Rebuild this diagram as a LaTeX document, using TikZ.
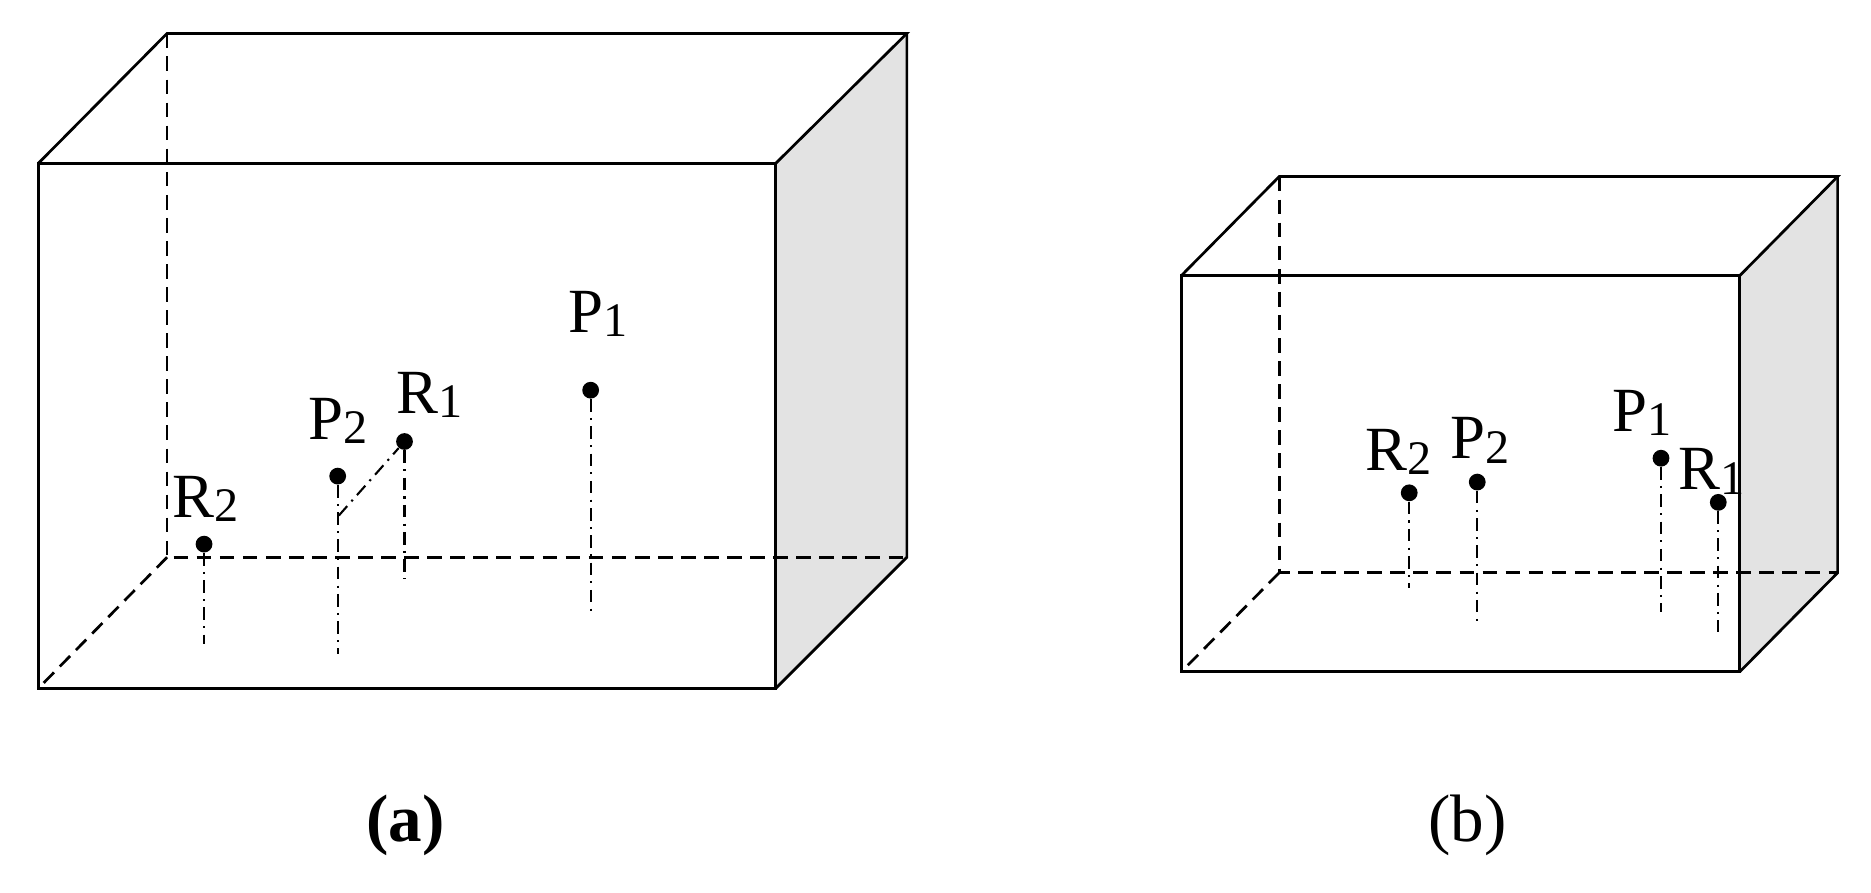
\documentclass[tikz,border=0pt]{standalone}
\usepackage{fontspec}
\setmainfont{Liberation Serif}
\tikzset{
 edge/.style={line width=1.3pt},
 hid/.style={line width=1.3pt,dash pattern=on 7pt off 4pt},
 drop/.style={line width=1pt,dash pattern=on 6pt off 3pt on 1pt off 3pt},
 pt/.style={circle,fill=black,inner sep=0pt,minimum size=8pt},
 lab/.style={font=\fontsize{30}{34}\selectfont,inner sep=0pt},
 capt/.style={font=\fontsize{32}{36}\selectfont\bfseries,inner sep=0pt}
}
\newcommand{\sbs}[1]{\raisebox{-2pt}{\fontsize{23}{24}\selectfont #1}}
\begin{document}
\begin{tikzpicture}[x=0.02cm,y=-0.02cm]
\useasboundingbox (0,0) rectangle (1568,748);
% box a
\fill[gray!22] (650,137) -- (760,28) -- (760,467) -- (650,577) -- cycle;
\draw[edge] (32,137) rectangle (650,577);
\draw[edge] (32,137) -- (140,28) -- (760,28) -- (650,137);
\draw[edge] (760,28) -- (760,467) -- (650,577);
\draw[hid] (140,28) -- (140,467) -- (760,467);
\draw[hid] (140,467) -- (32,577);
\node[pt] (ap1) at (495,327) {}; \coordinate (ap1e) at (495,517);
\node[pt] (ar1) at (339,370) {}; \coordinate (ar1e) at (339,485);
\node[pt] (ap2) at (283,399) {}; \coordinate (ap2e) at (283,548);
\node[pt] (ar2) at (171,456) {}; \coordinate (ar2e) at (171,540);
\coordinate (adiag) at (284,432);
\draw[drop] (ap1) -- (ap1e); \draw[drop] (ar1) -- (ar1e);
\draw[drop] (ap2) -- (ap2e); \draw[drop] (ar2) -- (ar2e);
\draw[drop] (adiag) -- (ar1);
\node[lab] (lap1) at (501,263) {P\sbs{1}};
\node[lab] (lap2) at (283,353) {P\sbs{2}};
\node[lab] (lar1) at (360,331) {R\sbs{1}};
\node[lab] (lar2) at (172,418) {R\sbs{2}};
\node[capt] (ca) at (340,692) {(a)};
% box b
\fill[gray!22] (1458,231) -- (1540,148) -- (1540,480) -- (1458,563) -- cycle;
\draw[edge] (990,231) rectangle (1458,563);
\draw[edge] (990,231) -- (1072,148) -- (1540,148) -- (1458,231);
\draw[edge] (1540,148) -- (1540,480) -- (1458,563);
\draw[hid] (1072,148) -- (1072,480) -- (1540,480);
\draw[hid] (1072,480) -- (990,563);
\node[pt] (br2) at (1181,413) {}; \coordinate (br2e) at (1181,493);
\node[pt] (bp2) at (1238,404) {}; \coordinate (bp2e) at (1238,523);
\node[pt] (bp1) at (1392,384) {}; \coordinate (bp1e) at (1392,513);
\node[pt] (br1) at (1440,421) {}; \coordinate (br1e) at (1440,530);
\draw[drop] (br2) -- (br2e); \draw[drop] (bp2) -- (bp2e);
\draw[drop] (bp1) -- (bp1e); \draw[drop] (br1) -- (br1e);
\node[lab] (lbr2) at (1172,379) {R\sbs{2}};
\node[lab] (lbp2) at (1240,369) {P\sbs{2}};
\node[lab] (lbp1) at (1376,346) {P\sbs{1}};
\node[lab] (lbr1) at (1434,395) {R\sbs{1}};
\node[capt,font=\fontsize{32}{36}\selectfont] (cb) at (1230,692) {(b)};
\end{tikzpicture}
\end{document}
